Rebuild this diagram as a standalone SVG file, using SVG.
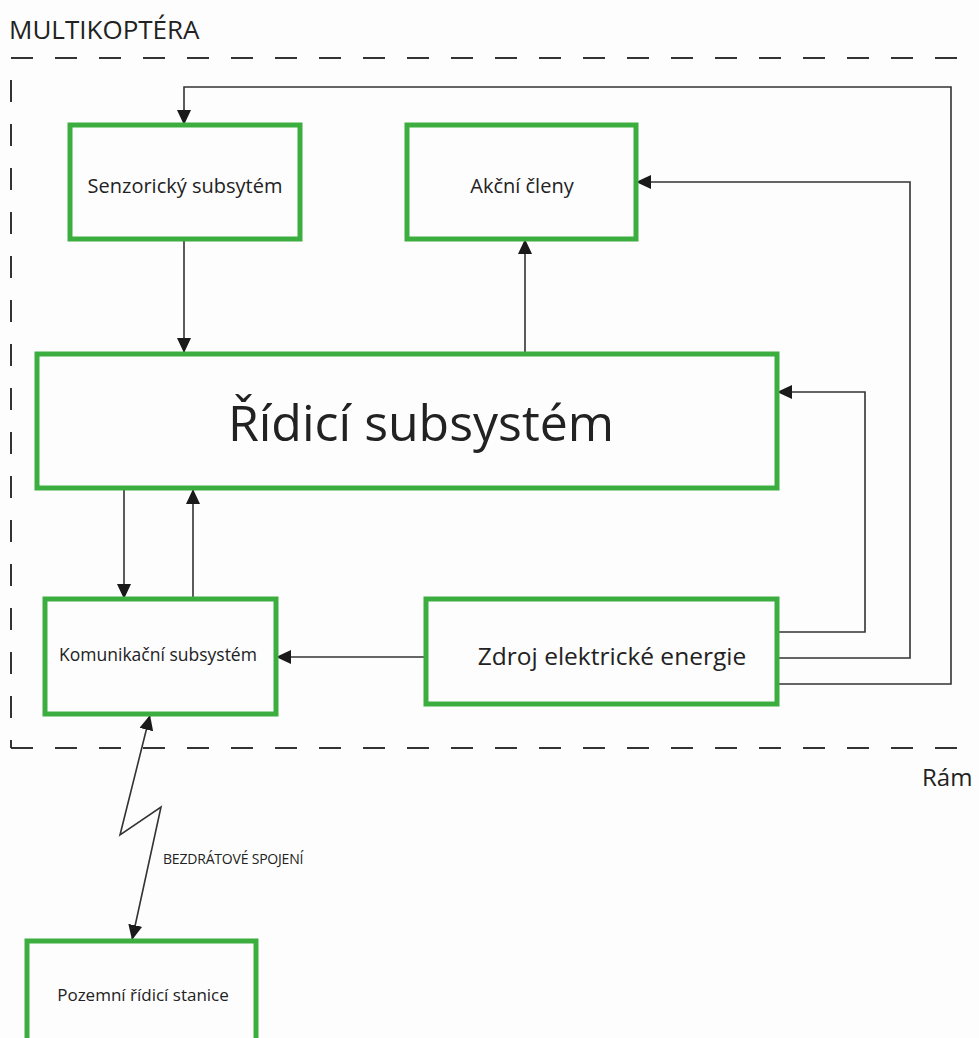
<svg xmlns="http://www.w3.org/2000/svg" width="979" height="1038" viewBox="0 0 979 1038">
  <defs>
    <marker id="arrow" viewBox="0 0 15 14" refX="15" refY="7" markerWidth="15" markerHeight="14" markerUnits="userSpaceOnUse" orient="auto-start-reverse">
      <path d="M0,0 L15,7 L0,14 Z" fill="#1a1a1a"/>
    </marker>
    <style>
      .box { fill: none; stroke: #3cae3f; stroke-width: 5; }
      .lbl { font-family: "Open Sans", "Noto Sans", "Liberation Sans", sans-serif; fill: #222; text-anchor: middle; }
      .wire { fill: none; stroke: #333; stroke-width: 1.6; }
      .frame { fill: none; stroke: #333; stroke-width: 2; stroke-dasharray: 22 22; }
      .title { font-family: "Open Sans", "Noto Sans", "Liberation Sans", sans-serif; fill: #222; }
    </style>
  </defs>

  <rect x="0" y="0" width="979" height="1038" fill="#fdfdfd"/>

  <!-- vehicle boundary -->
  <g id="frame">
    <path class="frame" d="M11,58 L1000,58"/>
    <path class="frame" d="M11,58 L11,748" style="stroke-dashoffset:-22"/>
    <path class="frame" d="M11,748 L1000,748"/>
    <text class="title" x="9" y="39" font-size="26">MULTIKOPTÉRA</text>
    <text class="title" x="922" y="786" font-size="24">Rám</text>
  </g>

  <!-- connectors -->
  <g id="connectors">
    <path class="wire" d="M184,239 L184,353" marker-end="url(#arrow)"/>
    <path class="wire" d="M525,353 L525,239" marker-end="url(#arrow)"/>
    <path class="wire" d="M124,489 L124,599" marker-end="url(#arrow)"/>
    <path class="wire" d="M193,599 L193,489" marker-end="url(#arrow)"/>
    <path class="wire" d="M426,657 L276,657" marker-end="url(#arrow)"/>
    <path class="wire" d="M777,632 L865,632 L865,392 L777,392" marker-end="url(#arrow)"/>
    <path class="wire" d="M777,658 L910,658 L910,182 L636,182" marker-end="url(#arrow)"/>
    <path class="wire" d="M777,684 L951,684 L951,87 L184,87 L184,125" marker-end="url(#arrow)"/>
    <path class="wire" d="M150,715 L120,835 L161,807 L132,940" marker-start="url(#arrow)" marker-end="url(#arrow)"/>
    <text class="title" x="163" y="864" font-size="14" letter-spacing="-0.2">BEZDRÁTOVÉ SPOJENÍ</text>
  </g>

  <g id="senzoricky">
    <rect class="box" x="70" y="125" width="230" height="114"/>
    <text class="lbl" x="185" y="193" font-size="20">Senzorický subsytém</text>
  </g>

  <g id="akcni">
    <rect class="box" x="407" y="125" width="229" height="114"/>
    <text class="lbl" x="522" y="193" font-size="20">Akční členy</text>
  </g>

  <g id="ridici">
    <rect class="box" x="37" y="354" width="740" height="134"/>
    <text class="lbl" x="421" y="441" font-size="50">Řídicí subsystém</text>
  </g>

  <g id="komunikacni">
    <rect class="box" x="45" y="599" width="231" height="115"/>
    <text class="lbl" x="158" y="661" font-size="17.5">Komunikační subsystém</text>
  </g>

  <g id="zdroj">
    <rect class="box" x="426" y="599" width="351" height="105"/>
    <text class="lbl" x="612" y="665" font-size="24.5">Zdroj elektrické energie</text>
  </g>

  <g id="pozemni">
    <rect class="box" x="27" y="941" width="229" height="110"/>
    <text class="lbl" x="143" y="1001" font-size="17">Pozemní řídicí stanice</text>
  </g>
</svg>
